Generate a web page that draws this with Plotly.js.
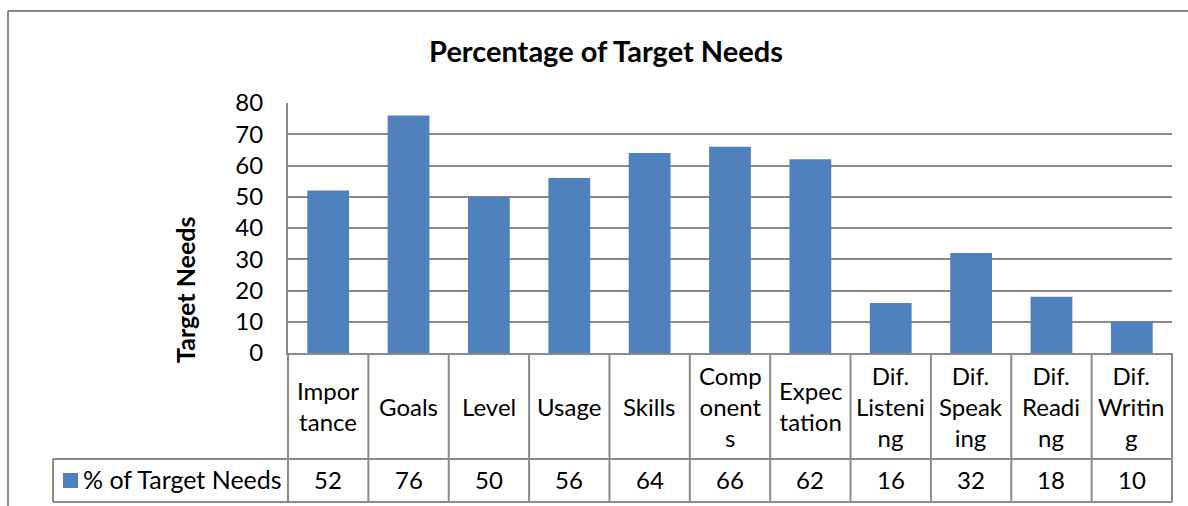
<!DOCTYPE html>
<html><head><meta charset="utf-8">
<script src="https://cdn.plot.ly/plotly-3.0.1.min.js"></script>
<style>html,body{margin:0;padding:0;background:#fff}#chart{width:1188px;height:506px}</style>
</head><body><div id="chart"></div>
<script>
// ---- data ----
const categories = ["Importance","Goals","Level","Usage","Skills","Components","Expectation","Dif. Listening","Dif. Speaking","Dif. Reading","Dif. Writing"];
const tickLabels = ["Impor<br>tance","Goals","Level","Usage","Skills","Comp<br>onent<br>s","Expec<br>tation","Dif.<br>Listeni<br>ng","Dif.<br>Speak<br>ing","Dif.<br>Readi<br>ng","Dif.<br>Writin<br>g"];
const values = [52,76,50,56,64,66,62,16,32,18,10];
const seriesName = "% of Target Needs";
const titleText = "Percentage of Target Needs";
const yTitleText = "Target Needs";
const yTicks = [0,10,20,30,40,50,60,70,80];

// ---- layout geometry ----
const W = 1188, H = 506, L = 288, R = 16, T = 103, B = 153;
const plotW = W - L - R, plotH = H - T - B;
const px = p => (p - L) / plotW;
const py = p => (H - B - p) / plotH;
const FONT = "Lato, 'Open Sans', sans-serif";
const GRID = "#8a8a8a";
const BLUE = "#4F81BD";
const FS = 24;

const idx = categories.map((c, i) => i);

const shapes = [];
const line = (o) => Object.assign({type: "line", layer: "above", line: {color: GRID, width: 2}}, o);
// table inner vertical lines
for (let i = 1; i < categories.length; i++) {
  shapes.push(line({xref: "x", yref: "paper", x0: i - 0.5, x1: i - 0.5, y0: py(353), y1: py(502)}));
}
// table outer verticals
shapes.push(line({xref: "paper", yref: "paper", x0: 0, x1: 0, y0: py(353), y1: py(502)}));
shapes.push(line({xref: "paper", yref: "paper", x0: 1, x1: 1, y0: py(353), y1: py(502)}));
// legend cell
shapes.push(line({xref: "paper", yref: "paper", x0: px(53), x1: px(53), y0: py(459), y1: py(502)}));
shapes.push(line({xref: "paper", yref: "paper", x0: px(53), x1: 1, y0: py(459), y1: py(459)}));
shapes.push(line({xref: "paper", yref: "paper", x0: px(53), x1: 1, y0: py(502), y1: py(502)}));
// outer frame
shapes.push(line({xref: "paper", yref: "paper", x0: px(8), x1: px(8), y0: py(11), y1: py(510)}));
shapes.push(line({xref: "paper", yref: "paper", x0: px(8), x1: px(1192), y0: py(11), y1: py(11)}));
// legend key square
shapes.push({type: "rect", xref: "paper", yref: "paper", x0: px(63), x1: px(78), y0: py(488), y1: py(473),
  fillcolor: BLUE, line: {width: 0}, layer: "above"});

const annotations = [];
idx.forEach(i => {
  annotations.push({xref: "x", yref: "paper", x: i, y: py(406), text: tickLabels[i], showarrow: false,
    xanchor: "center", yanchor: "middle", font: {family: FONT, size: FS, color: "#000"}});
  annotations.push({xref: "x", yref: "paper", x: i, y: py(479), text: String(values[i]), showarrow: false,
    xanchor: "center", yanchor: "middle", font: {family: FONT, size: FS, color: "#000"}});
});
annotations.push({xref: "paper", yref: "paper", x: px(81), y: py(479), text: seriesName, showarrow: false,
  xanchor: "left", yanchor: "middle", font: {family: FONT, size: 25, color: "#000"}});
annotations.push({xref: "paper", yref: "paper", x: px(185), y: py(290), text: "<b>" + yTitleText + "</b>", textangle: -90,
  showarrow: false, xanchor: "center", yanchor: "middle", font: {family: FONT, size: 25, color: "#000"}});

const data = [{
  type: "bar", x: idx, y: values, name: seriesName,
  marker: {color: BLUE, line: {width: 0}}, hoverinfo: "x+y"
}];

const layout = {
  width: W, height: H,
  margin: {l: L, r: R, t: T, b: B, pad: 0},
  paper_bgcolor: "#fff", plot_bgcolor: "#fff",
  showlegend: false,
  bargap: 0.48,
  title: {text: "<b>" + titleText + "</b>", xref: "container", yref: "container", x: 606 / W, xanchor: "center",
    y: 1 - 52 / H, yanchor: "middle", font: {family: FONT, size: 29, color: "#000"}},
  xaxis: {range: [-0.5, categories.length - 0.5], showticklabels: false, ticks: "", showgrid: false, zeroline: false,
    showline: true, linecolor: GRID, linewidth: 2, fixedrange: true},
  yaxis: {range: [0, 80], tickvals: yTicks, ticktext: yTicks.map(String), ticks: "", ticklabelstandoff: 18,
    showgrid: true, gridcolor: GRID, gridwidth: 2, zeroline: false, showline: true, linecolor: GRID, linewidth: 2,
    tickfont: {family: FONT, size: FS, color: "#000"}, fixedrange: true},
  shapes: shapes,
  annotations: annotations,
  font: {family: FONT}
};

Plotly.newPlot("chart", data, layout, {displayModeBar: false, staticPlot: true});
</script>
</body></html>
